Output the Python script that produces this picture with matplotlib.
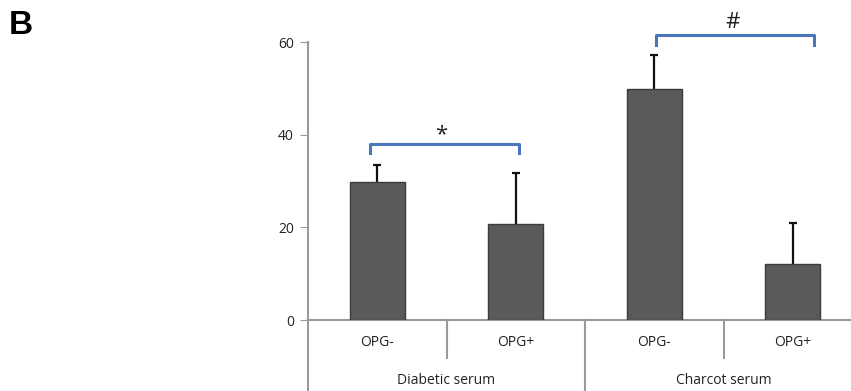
import matplotlib
matplotlib.use("Agg")
import matplotlib.pyplot as plt
import matplotlib.transforms as mtransforms

groups = ["Diabetic serum", "Charcot serum"]
conditions = ["OPG-", "OPG+", "OPG-", "OPG+"]
values = [29.7, 20.8, 49.9, 12.1]
errors = [3.8, 10.9, 7.3, 8.8]
sig_labels = ["*", "#"]

plt.rcParams['font.family'] = ['Open Sans', 'DejaVu Sans']

W, H = 851, 391
fig = plt.figure(figsize=(W / 100, H / 100), dpi=100)
left, right, bottom, top = 308, 862, 320, 42
ax = fig.add_axes([left / W, 1 - bottom / H, (right - left) / W, (bottom - top) / H])

x = list(range(len(values)))
gray = '#9a9a9a'
ax.bar(x, values, width=0.4, color='#5a5a5a', edgecolor='#3c3c3c', linewidth=1.0, zorder=3)
tops = [v + e for v, e in zip(values, errors)]
ax.vlines(x, values, tops, color='#111111', lw=1.6, zorder=2)
ax.hlines(tops, [xi - 0.03 for xi in x], [xi + 0.03 for xi in x], color='#111111', lw=1.6, zorder=2)

ax.set_xlim(-0.5, 3.5)
ax.set_ylim(0, 60)
ax.set_yticks([0, 20, 40, 60])
ax.tick_params(axis='y', length=6, color=gray, labelsize=10, pad=4, labelcolor='#222222')
ax.set_xticks([])
for s in ['top', 'right']:
    ax.spines[s].set_visible(False)
for s in ['left', 'bottom']:
    ax.spines[s].set_color(gray)
    ax.spines[s].set_linewidth(1.5)

trans = mtransforms.blended_transform_factory(ax.transData, ax.transAxes)
ph = bottom - top
# dividers below axis
ax.plot([-0.5, -0.5], [0, -(H - bottom) / ph], transform=trans, color=gray, lw=1.5, clip_on=False)
for xv in [0.5, 2.5]:
    ax.plot([xv, xv], [0, -38 / ph], transform=trans, color=gray, lw=1.5, clip_on=False)
ax.plot([1.5, 1.5], [0, -(H - bottom) / ph], transform=trans, color=gray, lw=1.5, clip_on=False)

for xi, lab in zip(x, conditions):
    ax.text(xi, -23 / ph, lab, transform=trans, ha='center', va='center', fontsize=10, color='#222222')
for gi, g in enumerate(groups):
    ax.text(gi * 2 + 0.5, -60 / ph, g, transform=trans, ha='center', va='center', fontsize=10, color='#222222')

# significance brackets
blue = '#4a76c0'
b1 = dict(x0=-0.05, x1=1.02, y=38.0, yl=36.0)
b2 = dict(x0=2.01, x1=3.155, y=61.5, yl=59.4)
for b, lab, ly in [(b1, sig_labels[0], 40.0), (b2, sig_labels[1], 64.3)]:
    ax.plot([b['x0'], b['x0'], b['x1'], b['x1']], [b['yl'], b['y'], b['y'], b['yl']],
            color=blue, lw=2.2, clip_on=False, zorder=4)
    ax.text((b['x0'] + b['x1']) / 2 - 0.02, ly, lab, ha='center', va='center', fontsize=16,
            color='#222222', clip_on=False)

fig.text(9 / W, 1 - 25 / H, "B", fontsize=24, fontweight='bold', family='Liberation Sans',
         ha='left', va='center')

fig.savefig('out.png', dpi=100)
